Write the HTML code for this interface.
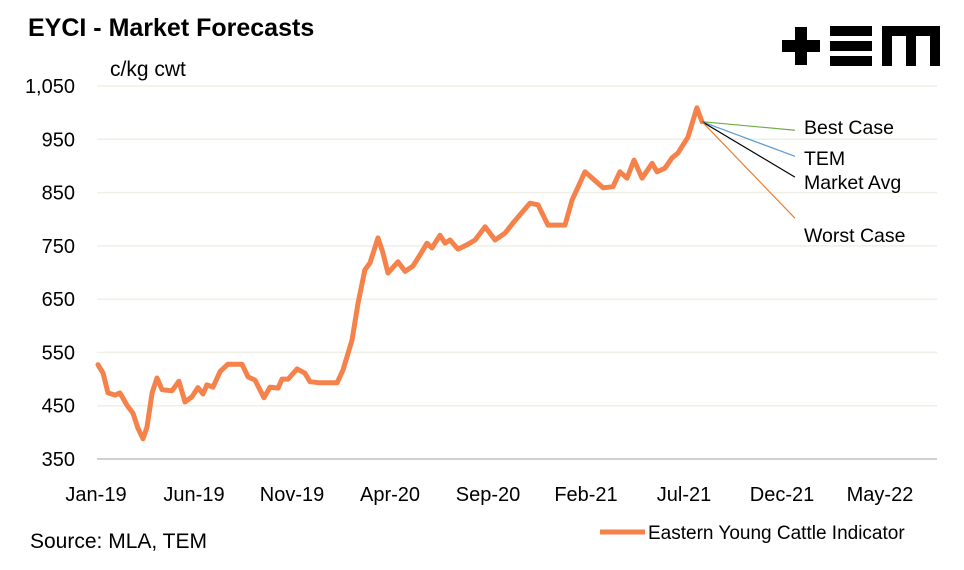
<!DOCTYPE html>
<html><head><meta charset="utf-8"><style>
body{margin:0;background:#fff;font-family:"Liberation Sans",sans-serif;}
#wrap{position:relative;width:964px;height:570px;overflow:hidden;background:#fff}
.t{position:absolute;color:#000;white-space:nowrap}
</style></head><body>
<div id="wrap">
<div class="t" style="left:28px;top:14px;font-size:25px;font-weight:bold">EYCI - Market Forecasts</div>
<div class="t" style="left:110px;top:58px;font-size:21px">c/kg cwt</div>
<div class="t" style="left:30px;top:530px;font-size:21px">Source: MLA, TEM</div>
<div style="position:absolute;left:782px;top:26px;width:160px;height:40px">
 <div style="position:absolute;left:0;top:14px;width:38px;height:12px;background:#000"></div>
 <div style="position:absolute;left:13px;top:1px;width:12px;height:38px;background:#000"></div>
 <div style="position:absolute;left:48px;top:0;width:42px;height:10px;background:#000"></div>
 <div style="position:absolute;left:48px;top:15px;width:42px;height:10px;background:#000"></div>
 <div style="position:absolute;left:48px;top:30px;width:42px;height:10px;background:#000"></div>
 <div style="position:absolute;left:100px;top:0;width:58px;height:10px;background:#000"></div>
 <div style="position:absolute;left:100px;top:0;width:10px;height:40px;background:#000"></div>
 <div style="position:absolute;left:124px;top:0;width:10px;height:40px;background:#000"></div>
 <div style="position:absolute;left:148px;top:0;width:10px;height:40px;background:#000"></div>
</div>
<svg id="chart" width="964" height="570" style="position:absolute;left:0;top:0"></svg>
</div>
<script>
const yTicks=[350,450,550,650,750,850,950,1050];
const xTickMonths=[0,5,10,15,20,25,30,35,40];
const xTickLabels=["Jan-19","Jun-19","Nov-19","Apr-20","Sep-20","Feb-21","Jul-21","Dec-21","May-22"];
const eyciMonths=[0.10,0.36,0.61,0.97,1.22,1.58,1.89,2.14,2.40,2.60,2.86,3.11,3.37,3.88,4.23,4.54,4.90,5.20,5.46,5.66,5.97,6.33,6.73,7.45,7.76,8.11,8.57,8.88,9.29,9.49,9.80,10.26,10.66,10.92,11.43,12.30,12.60,13.06,13.37,13.72,13.98,14.39,14.64,14.90,15.41,15.77,16.17,16.53,16.89,17.14,17.55,17.81,18.06,18.47,18.93,19.34,19.85,20.36,20.87,21.28,22.14,22.55,23.06,23.93,24.29,24.95,25.87,26.38,26.73,27.09,27.45,27.86,28.37,28.62,29.03,29.39,29.69,30.20,30.66,30.92];
const eyciValues=[527,511,474,470,474,451,436,408,388,410,474,502,480,478,496,457,467,484,472,489,485,514,528,528,504,498,465,485,483,500,500,519,511,495,493,493,517,573,643,705,718,765,737,699,720,702,712,733,755,746,770,755,761,744,752,761,786,761,774,793,830,827,789,789,836,889,859,861,889,877,911,877,905,889,896,915,924,954,1009,983];
const forecastNames=["Best Case","TEM","Market Avg","Worst Case"];
const forecastStart=[30.92,983];
const forecastEndMonth=35.66;
const forecastEndValues=[967,918,879,802];
const forecastColors=["#70ad47","#5b9bd5","#000000","#ed7d31"];
const NS="http://www.w3.org/2000/svg";
const svg=document.getElementById('chart');
const X0=96,PX_PER_MONTH=19.6,Y0=459,PX_PER_UNIT=373/700;
function xs(m){return X0+m*PX_PER_MONTH;}
function ys(v){return Y0-(v-350)*PX_PER_UNIT;}
function el(tag,attrs){const e=document.createElementNS(NS,tag);for(const k in attrs)e.setAttribute(k,attrs[k]);svg.appendChild(e);return e;}
yTicks.forEach((v,i)=>{
 const g=el('line',{x1:97,x2:937,y1:ys(v),y2:ys(v),stroke:i===0?'#d0d0d0':'#efefe6','stroke-width':i===0?2:1.5});
 
 
 const t=el('text',{x:75,y:ys(v)+7,'text-anchor':'end','font-size':20,'font-family':'Liberation Sans, sans-serif'});
 t.textContent=v.toLocaleString('en-US');
 
 
});
xTickMonths.forEach((m,i)=>{
 const t=el('text',{x:xs(m),y:501,'text-anchor':'middle','font-size':20,'font-family':'Liberation Sans, sans-serif'});
 t.textContent=xTickLabels[i];
 
 
});
const pts=eyciMonths.map((m,i)=>xs(m).toFixed(1)+','+ys(eyciValues[i]).toFixed(1)).join(' ');
const pl=el('polyline',{points:pts,fill:'none',stroke:'#f4824a','stroke-width':5,'stroke-linejoin':'round','stroke-linecap':'round'});


const labelY=[134,165,189,242];
forecastNames.forEach((n,i)=>{
 const l=el('line',{x1:xs(forecastStart[0]),y1:ys(forecastStart[1]),x2:xs(forecastEndMonth),y2:ys(forecastEndValues[i]),stroke:forecastColors[i],'stroke-width':1.2});
 
 
 const t=el('text',{x:804,y:labelY[i],'font-size':19.5,'font-family':'Liberation Sans, sans-serif'});
 t.textContent=n;
 
 
});
const ll=el('line',{x1:600,x2:645,y1:532,y2:532,stroke:'#f4824a','stroke-width':5});


const lt=el('text',{x:648,y:539,'font-size':19,'font-family':'Liberation Sans, sans-serif'});
lt.textContent='Eastern Young Cattle Indicator';


</script>
</body></html>
